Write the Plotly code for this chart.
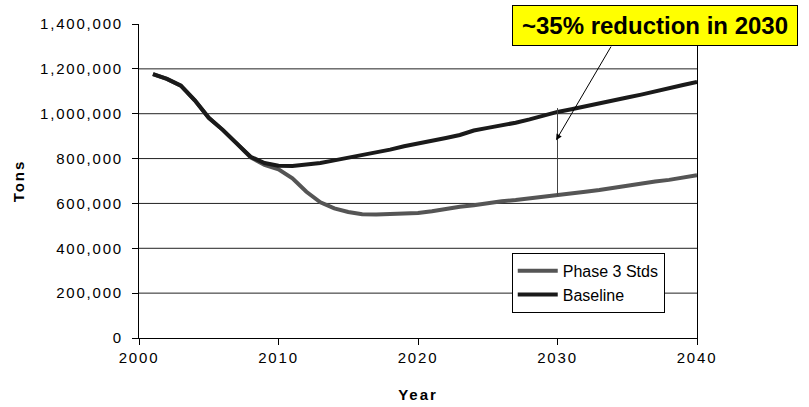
import plotly.graph_objects as go

years = list(range(2001, 2041))

baseline = [1177000, 1155000, 1125000, 1060000, 982000, 928000, 868000, 808000,
            780000, 768000, 767000, 772000, 780000, 792000, 803000, 815000,
            826000, 840000, 855000, 866000, 880000, 892000, 905000, 925000,
            937000, 948000, 960000, 975000, 993000, 1008000, 1020000, 1032000,
            1045000, 1060000, 1072000, 1085000, 1098000, 1112000, 1128000, 1142000]

phase3 = [1177000, 1155000, 1125000, 1060000, 982000, 928000, 868000, 805000,
          772000, 752000, 712000, 652000, 605000, 578000, 562000, 552000,
          551000, 552000, 555000, 557000, 565000, 577000, 585000, 592000,
          603000, 610000, 615000, 622000, 628000, 634000, 645000, 652000,
          660000, 670000, 680000, 690000, 698000, 705000, 716000, 726000]

x_ticks = [2000, 2010, 2020, 2030, 2040]
y_ticks = [0, 200000, 400000, 600000, 800000, 1000000, 1200000, 1400000]
grid_values = [200000, 400000, 600000, 800000, 1000000, 1200000]

series_names = ["Phase 3 Stds", "Baseline"]
callout_text = "~35% reduction in 2030"
callout_year = 2030

FONT = "Liberation Sans, Arial, sans-serif"

fig = go.Figure()
fig.add_trace(go.Scatter(x=years, y=phase3, mode="lines", name=series_names[0],
                         line=dict(color="#555555", width=4)))
fig.add_trace(go.Scatter(x=years, y=baseline, mode="lines", name=series_names[1],
                         line=dict(color="#1a1a1a", width=4)))

# gridlines (none at the top edge)
for g in grid_values:
    fig.add_shape(type="line", xref="paper", yref="y", x0=0, x1=1, y0=g, y1=g,
                  line=dict(color="#222222", width=1), layer="below")

# vertical reduction marker at 2030
i30 = years.index(callout_year)
fig.add_shape(type="line", xref="x", yref="y", x0=callout_year, x1=callout_year,
              y0=phase3[i30], y1=baseline[i30] * 1.017,
              line=dict(color="#444444", width=1))

# arrow from callout to marker
fig.add_annotation(x=2029.9, y=882000, ax=2033.9, ay=1306000, xref="x", yref="y",
                   axref="x", ayref="y", text="", showarrow=True, arrowhead=2,
                   arrowsize=1.2, arrowwidth=1, arrowcolor="#000000")

# callout box
fig.add_annotation(x=0.925, y=0.9968, xref="paper", yref="paper", xanchor="center",
                   yanchor="middle", text="<b>" + callout_text + "</b>", showarrow=False,
                   font=dict(family=FONT, size=24, color="#000000"),
                   bgcolor="#ffff00", bordercolor="#000000", borderwidth=1,
                   borderpad=5, width=274, height=29, align="center")

fig.update_layout(
    width=809, height=407,
    margin=dict(l=139, r=112, t=24, b=69, autoexpand=False),
    paper_bgcolor="white", plot_bgcolor="white",
    font=dict(family=FONT, size=15, color="#000000"),
    showlegend=True,
    legend=dict(x=0.668, y=0.271, xanchor="left", yanchor="top",
                bgcolor="white", bordercolor="#000000", borderwidth=1,
                font=dict(family=FONT, size=16, color="#000000"),
                tracegroupgap=0, itemwidth=40),
    xaxis=dict(range=[2000, 2040], tickvals=x_ticks, ticks="outside", ticklen=6,
               tickcolor="#000000", showline=True, linecolor="#000000", linewidth=1,
               showgrid=False, zeroline=False, automargin=False,
               title=dict(text="<b>Year</b>", standoff=24,
                          font=dict(family=FONT, size=15))),
    yaxis=dict(range=[0, 1400000], tickvals=y_ticks, tickformat=",d", ticks="outside",
               ticklen=6, tickcolor="#000000", showline=True, linecolor="#000000",
               linewidth=1, mirror=True, showgrid=False, zeroline=False,
               ticklabelstandoff=6, automargin=False,
               title=dict(text="<b>Tons</b>", standoff=28,
                          font=dict(family=FONT, size=15))),
)

post = """
document.body.style.margin = '0';
document.body.style.padding = '0';
var gd = document.getElementById('{plot_id}');
function ls(){
  gd.querySelectorAll('.xtick text, .ytick text').forEach(function(t){t.style.letterSpacing='1.8px';});
  gd.querySelectorAll('.g-xtitle text, .g-ytitle text').forEach(function(t){t.style.letterSpacing='2px';});
}
ls();
if (gd.on) { gd.on('plotly_afterplot', ls); }
"""

fig.write_html("out.html", post_script=post, config={"displayModeBar": False})
